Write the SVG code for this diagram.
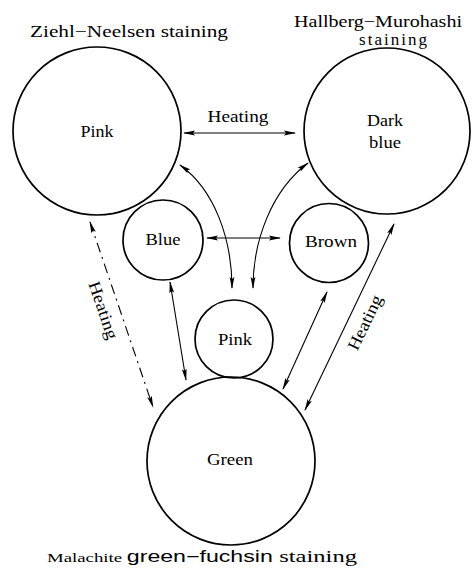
<svg xmlns="http://www.w3.org/2000/svg" width="472" height="570" viewBox="0 0 472 570">
<style>
.c{fill:none;stroke:#000;stroke-width:1.7}
.t{font-family:"Liberation Serif","DejaVu Serif",serif;font-size:17px;fill:#000;text-anchor:middle}
.a{fill:none;stroke:#000;stroke-width:1.1;marker-start:url(#ah);marker-end:url(#ah)}
.d{stroke-dasharray:10 5 2 5}
</style>
<defs>
<marker id="ah" viewBox="0 0 12 6" refX="11" refY="3" markerWidth="12" markerHeight="6" markerUnits="userSpaceOnUse" orient="auto-start-reverse">
<path d="M0,0.6 L12,3 L0,5.4 L2,3 Z" fill="#000"/>
</marker>
</defs>
<g id="titles">
<text class="t" x="129" y="37" textLength="198" lengthAdjust="spacingAndGlyphs">Ziehl−Neelsen staining</text>
<text class="t" x="378" y="27" textLength="168" lengthAdjust="spacingAndGlyphs">Hallberg−Murohashi</text>
<text class="t" x="393" y="45" textLength="68" lengthAdjust="spacing">staining</text>
<text class="t" x="202" y="562" textLength="310" lengthAdjust="spacingAndGlyphs"><tspan font-size="13">Malachite </tspan><tspan font-family="Liberation Sans, sans-serif" font-size="16">green−fuchsin  </tspan><tspan>staining</tspan></text>
</g>
<g id="node-pink-zn">
<circle class="c" cx="97" cy="131" r="84"/>
<text class="t" x="97" y="137" textLength="33" lengthAdjust="spacingAndGlyphs">Pink</text>
</g>
<g id="node-darkblue">
<circle class="c" cx="387" cy="131" r="83"/>
<text class="t" x="385" y="126" textLength="36" lengthAdjust="spacingAndGlyphs">Dark</text>
<text class="t" x="385" y="148" textLength="32" lengthAdjust="spacingAndGlyphs">blue</text>
</g>
<g id="node-blue">
<circle class="c" cx="163" cy="240" r="40"/>
<text class="t" x="163" y="245" textLength="35" lengthAdjust="spacingAndGlyphs">Blue</text>
</g>
<g id="node-brown">
<circle class="c" cx="329" cy="243" r="39.5"/>
<text class="t" x="331" y="247" textLength="52" lengthAdjust="spacingAndGlyphs">Brown</text>
</g>
<g id="node-pink-small">
<circle class="c" cx="234" cy="339" r="39"/>
<text class="t" x="235" y="345" textLength="34" lengthAdjust="spacingAndGlyphs">Pink</text>
</g>
<g id="node-green">
<circle class="c" cx="231" cy="461" r="84"/>
<text class="t" x="230" y="465" textLength="46" lengthAdjust="spacingAndGlyphs" font-family="Liberation Sans, sans-serif" font-size="16">Green</text>
</g>
<g id="connectors">
<line class="a" x1="184" y1="133" x2="295" y2="133"/>
<text class="t" x="238" y="122" textLength="61" lengthAdjust="spacingAndGlyphs">Heating</text>
<line class="a" x1="207" y1="238" x2="280" y2="238"/>
<path class="a" d="M180,165 C215,190 232,240 232,288"/>
<path class="a" d="M308,163 C272,190 253,240 253,288"/>
<line class="a" x1="170" y1="282" x2="186" y2="380"/>
<line class="a" x1="327" y1="292" x2="283" y2="389"/>
<line class="a" x1="394" y1="224" x2="305" y2="410"/>
<text class="t" transform="translate(370,325) rotate(-64.4)" textLength="59" lengthAdjust="spacingAndGlyphs" font-family="Liberation Sans, sans-serif" font-size="16">Heating</text>
<line class="a d" x1="90" y1="222" x2="153" y2="407" stroke-width="0.8"/>
<text class="t" transform="translate(98,312) rotate(71)" textLength="60" lengthAdjust="spacingAndGlyphs" font-size="16">Heating</text>
</g>
</svg>
